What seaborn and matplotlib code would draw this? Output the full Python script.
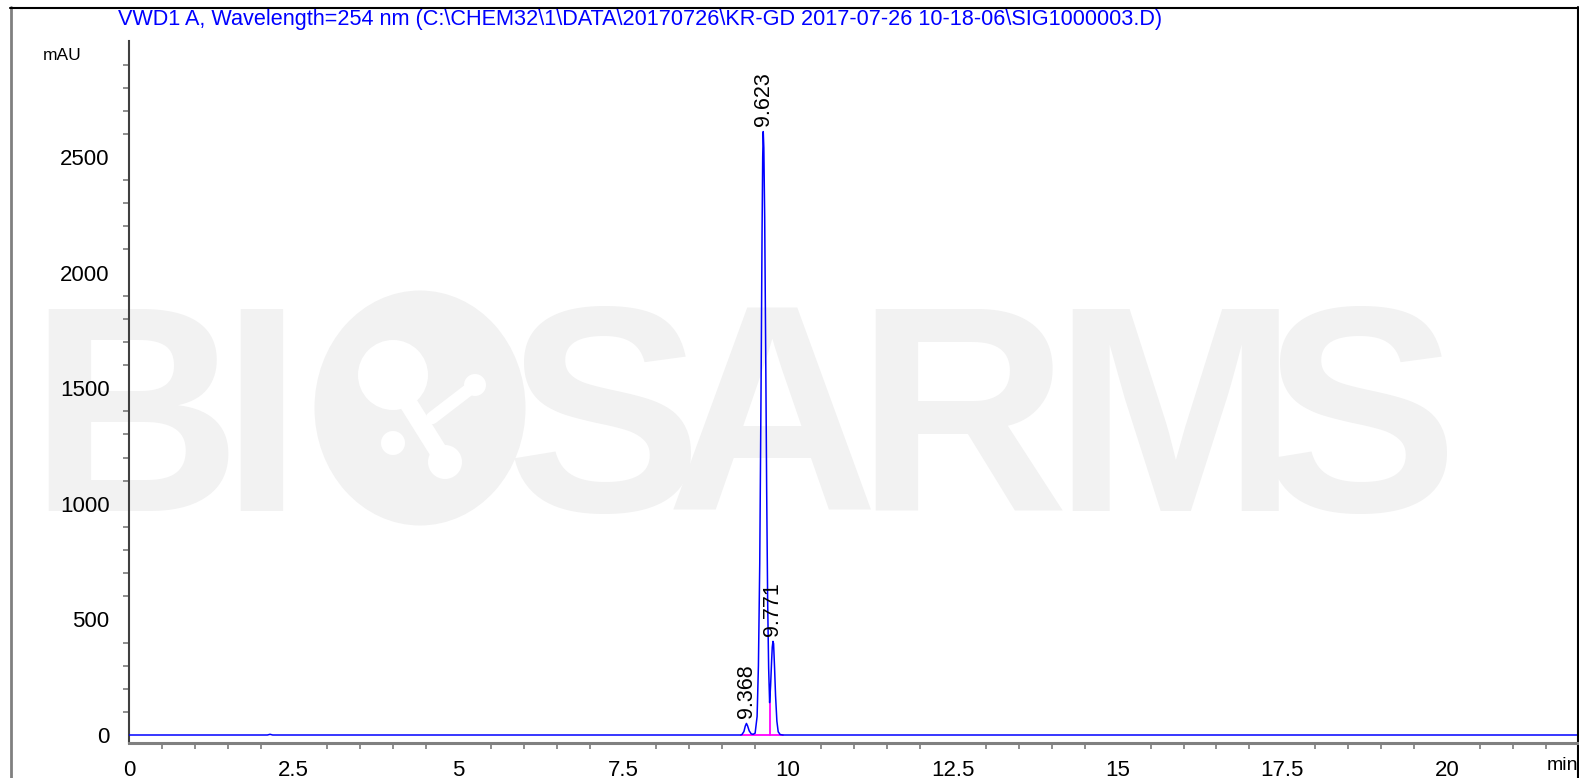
import matplotlib
matplotlib.use("Agg")
import matplotlib.pyplot as plt
import seaborn as sns
import pandas as pd
from matplotlib.lines import Line2D
from matplotlib.patches import Ellipse
from matplotlib.ticker import MultipleLocator, FixedLocator

# ---- data ----
time_min = [0.0, 2.10, 2.14, 2.18, 9.20, 9.28, 9.30, 9.33, 9.35, 9.368, 9.385, 9.41, 9.44,
            9.47, 9.50, 9.53, 9.55, 9.57, 9.59, 9.605, 9.615, 9.623, 9.632, 9.645,
            9.66, 9.675, 9.69, 9.705, 9.72, 9.735, 9.75, 9.76, 9.771, 9.78, 9.795,
            9.81, 9.83, 9.85, 9.88, 9.92, 21.97]
signal_mau = [0.0, 0.0, 3.0, 0.0, 0.0, 0.0, 2.0, 15.0, 38.0, 50.0, 40.0, 18.0, 5.0,
              3.0, 8.0, 80.0, 300.0, 740.0, 1500.0, 2170.0, 2500.0, 2610.0, 2540.0, 2240.0,
              1670.0, 1060.0, 580.0, 290.0, 140.0, 215.0, 320.0, 380.0, 405.0, 395.0, 290.0,
              170.0, 60.0, 14.0, 2.0, 0.0, 0.0]
peak_rt = [9.368, 9.623, 9.771]
peak_height = [50.0, 2610.0, 405.0]
peak_labels = ["9.368", "9.623", "9.771"]
baseline_start, baseline_end = 9.28, 9.92
drop_rt, drop_height = 9.72, 140.0
x_ticks = [0, 2.5, 5, 7.5, 10, 12.5, 15, 17.5, 20]
x_tick_labels = ["0", "2.5", "5", "7.5", "10", "12.5", "15", "17.5", "20"]
y_ticks = [0, 500, 1000, 1500, 2000, 2500, 3000]
y_tick_labels = ["0", "500", "1000", "1500", "2000", "2500", ""]
title = r"VWD1 A, Wavelength=254 nm (C:\CHEM32\1\DATA\20170726\KR-GD 2017-07-26 10-18-06\SIG1000003.D)"
watermark_letters = ["B", "I", "S", "A", "R", "M", "S"]

df = pd.DataFrame({"time": time_min, "mAU": signal_mau})

sns.set_style("white")
plt.rcParams["font.family"] = ["Liberation Sans", "DejaVu Sans"]

W, H = 1579, 778
fig = plt.figure(figsize=(W / 100, H / 100), dpi=100)
fig.patch.set_facecolor("white")

def fx(px):
    return px / W

def fy(py):
    return 1 - py / H

# ---- watermark (behind the axes) ----
wm = "#f2f2f2"
wm_centers = [135, 261, 604, 772, 962, 1175, 1360]
for letter, cx in zip(watermark_letters, wm_centers):
    fig.text(fx(cx), fy(511), letter, ha="center", va="baseline", fontsize=212,
             fontweight="bold", family=["Liberation Sans Narrow", "Liberation Sans"],
             color=wm, zorder=0)
fig.patches.append(Ellipse((fx(420), fy(408)), 211 / W, 235 / H, transform=fig.transFigure,
                           facecolor=wm, edgecolor="none", zorder=0))
for (cx, cy, r) in [(393, 375, 35), (393, 443, 12), (475, 385, 11), (445, 462, 17)]:
    fig.patches.append(Ellipse((fx(cx), fy(cy)), 2 * r / W, 2 * r / H, transform=fig.transFigure,
                               facecolor="white", edgecolor="none", zorder=0.5))
fig.lines.append(Line2D([fx(400), fx(445)], [fy(390), fy(462)], transform=fig.transFigure,
                        color="white", lw=13, solid_capstyle="round", zorder=0.5))
fig.lines.append(Line2D([fx(432), fx(475)], [fy(418), fy(385)], transform=fig.transFigure,
                        color="white", lw=9, solid_capstyle="round", zorder=0.5))

# ---- frame ----
fig.lines.append(Line2D([fx(10.5), fx(10.5)], [fy(7), fy(778)], transform=fig.transFigure,
                        color="#808080", lw=2, zorder=1))
fig.lines.append(Line2D([fx(10), fx(1577.5)], [fy(7.5), fy(7.5)], transform=fig.transFigure,
                        color="black", lw=1.5, zorder=1))
fig.lines.append(Line2D([fx(1577.5), fx(1577.5)], [fy(7), fy(778)], transform=fig.transFigure,
                        color="black", lw=1.5, zorder=1))

# ---- axes ----
left, right, bottom, top = 129, 1577, 743, 41.4
ax = fig.add_axes([fx(left), fy(bottom), (right - left) / W, (bottom - top) / H])
ax.set_zorder(2)
ax.patch.set_alpha(0)

sns.lineplot(data=df, x="time", y="mAU", ax=ax, color="#0000ff", lw=1.1, zorder=3)
ax.plot([baseline_start, baseline_end], [0, 0], color="#ff00ff", lw=1.3, zorder=2)
ax.plot([drop_rt, drop_rt], [0, drop_height], color="#ff00ff", lw=1.3, zorder=2)

for rt, h, lab in zip(peak_rt, peak_height, peak_labels):
    ax.annotate(lab, xy=(rt, h), xytext=(0, 4), textcoords="offset points",
                rotation=90, ha="center", va="bottom", fontsize=15.5, color="black")

ax.set_xlim(0, 21.97)
ax.set_ylim(-34.6, 3000)
ax.xaxis.set_major_locator(FixedLocator(x_ticks))
ax.set_xticklabels(x_tick_labels)
ax.xaxis.set_minor_locator(MultipleLocator(0.5))
ax.yaxis.set_major_locator(FixedLocator(y_ticks))
ax.set_yticklabels(y_tick_labels)
ax.yaxis.set_minor_locator(MultipleLocator(100))
ax.set_xlabel("")
ax.set_ylabel("")

for s in ["top", "right"]:
    ax.spines[s].set_visible(False)
ax.spines["left"].set_color("#404040")
ax.spines["left"].set_linewidth(1.5)
ax.spines["bottom"].set_color("#808080")
ax.spines["bottom"].set_linewidth(2.2)

ax.tick_params(axis="both", which="major", direction="out", length=9, width=1.3,
               colors="#707070", labelcolor="black", labelsize=16)
ax.tick_params(axis="both", which="minor", direction="out", length=4, width=1.1,
               colors="#707070")
ax.tick_params(axis="x", which="major", pad=3)
ax.tick_params(axis="y", which="major", pad=5)
ax.tick_params(axis="x", which="minor", bottom=True)
ax.tick_params(axis="y", which="minor", left=True)

fig.text(fx(43), fy(56), "mAU", ha="left", va="center", fontsize=12.5, color="black", zorder=3)
fig.text(fx(1578), fy(765), "min", ha="right", va="center", fontsize=14, color="black", zorder=3)
fig.text(fx(118), fy(20), title, ha="left", va="center", fontsize=15.6, color="#0000ff", zorder=3)

fig.savefig("out.png", dpi=100, facecolor="white")
